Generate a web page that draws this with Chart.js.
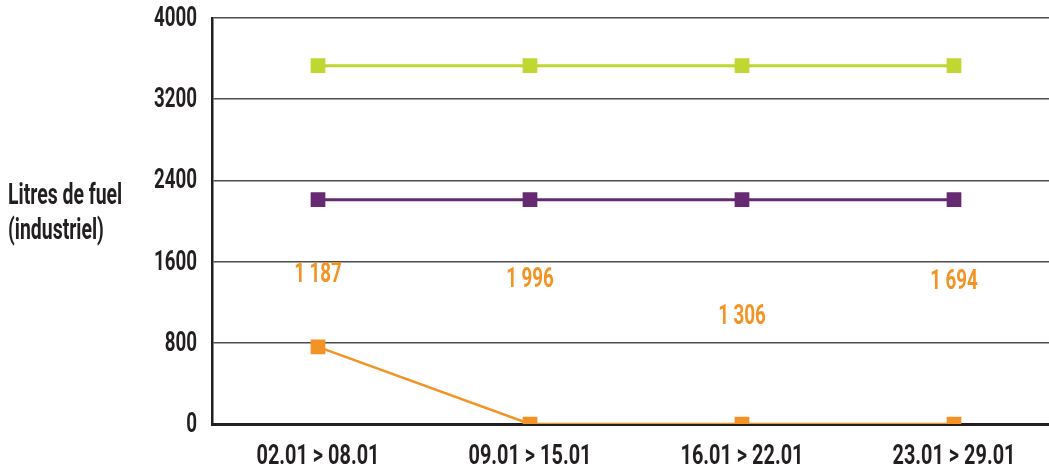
<!DOCTYPE html>
<html>
<head>
<meta charset="utf-8">
<script src="https://cdn.jsdelivr.net/npm/chart.js@4"></script>
<style>
  html, body { margin: 0; padding: 0; background: #fff; overflow: hidden; }
  #wrap { position: relative; width: 1049px; height: 470px; }
</style>
</head>
<body>
<div id="wrap"><canvas id="chartFuel"></canvas></div>
<script>
const FONT = 'Roboto, "Liberation Sans", sans-serif';
const SQUEEZE = 0.67;
const DARK = '#231f20';
const OVERHANG = 11; // the plot runs a little past the right edge in the original

const weeks = ['02.01 > 08.01', '09.01 > 15.01', '16.01 > 22.01', '23.01 > 29.01'];
const greenValues = [3530, 3530, 3530, 3530];
const purpleValues = [2210, 2210, 2210, 2210];
const orangeValues = [760, 0, 0, 0];
const weekLabels = ['1 187', '1 996', '1 306', '1 694'];
const weekLabelLevels = [1470, 1420, 1050, 1395];
const yTicks = [0, 800, 1600, 2400, 3200, 4000];
const yTitle = ['Litres de fuel', '(industriel)'];

// condensed bold text, the original uses a DIN condensed face
function squeezedText(ctx, text, x, y, align, size, color, squeeze = SQUEEZE) {
  ctx.save();
  ctx.font = `bold ${size}px ${FONT}`;
  ctx.fillStyle = color;
  ctx.textBaseline = 'middle';
  ctx.textAlign = align;
  ctx.translate(x, y);
  ctx.scale(squeeze, 1);
  ctx.fillText(text, 0, 0);
  ctx.restore();
}

const overhangPlugin = {
  id: 'overhang',
  afterLayout(chart) {
    const right = chart.width + OVERHANG;
    const area = chart.chartArea;
    area.right = right;
    area.width = right - area.left;
    const x = chart.scales.x;
    x.right = right;
    x.width = right - x.left;
    x.configure();
  },
};

const textPlugin = {
  id: 'squeezedText',
  afterDraw(chart) {
    const { ctx, scales } = chart;
    const { x, y } = scales;
    y.ticks.forEach((tick, i) => {
      squeezedText(ctx, String(tick.value), x.left - 15, y.getPixelForTick(i) + 1, 'right', 28, DARK);
    });
    x.ticks.forEach((tick, i) => {
      squeezedText(ctx, weeks[tick.value], x.getPixelForTick(i), y.bottom + 33, 'center', 28, DARK, 0.71);
    });
    weekLabels.forEach((text, i) => {
      squeezedText(ctx, text, x.getPixelForValue(i), y.getPixelForValue(weekLabelLevels[i]), 'center', 28, '#f39325');
    });
    yTitle.forEach((text, i) => {
      squeezedText(ctx, text, 8, 197 + i * 35, 'left', 29, DARK);
    });
  },
};

function lineSet(data, color, width) {
  return {
    data,
    borderColor: color,
    backgroundColor: color,
    borderWidth: width,
    pointStyle: 'rect',
    pointRadius: 10.4,
    pointHoverRadius: 10.4,
    pointBorderWidth: 0,
    tension: 0,
  };
}

new Chart(document.getElementById('chartFuel').getContext('2d'), {
  type: 'line',
  data: {
    labels: weeks,
    datasets: [
      lineSet(greenValues, '#bfd730', 3),
      lineSet(purpleValues, '#662a72', 3),
      lineSet(orangeValues, '#f39325', 2.5),
    ],
  },
  options: {
    responsive: true,
    maintainAspectRatio: false,
    animation: false,
    layout: { padding: { top: 18, right: 0, bottom: 0, left: 0 } },
    scales: {
      x: {
        offset: true,
        afterFit(scale) { scale.height = 46; },
        grid: { display: false, drawTicks: false },
        border: { display: true, color: DARK, width: 3 },
        ticks: { display: false },
      },
      y: {
        min: 0,
        max: 4000,
        afterFit(scale) { scale.width = 212; },
        afterBuildTicks(scale) { scale.ticks = yTicks.map((value) => ({ value })); },
        grid: { color: '#4d4d4d', lineWidth: 1.6, drawTicks: false },
        border: { display: true, color: DARK, width: 2.5 },
        ticks: { display: false },
      },
    },
    plugins: { legend: { display: false }, tooltip: { enabled: false } },
  },
  plugins: [overhangPlugin, textPlugin],
});
</script>
</body>
</html>
